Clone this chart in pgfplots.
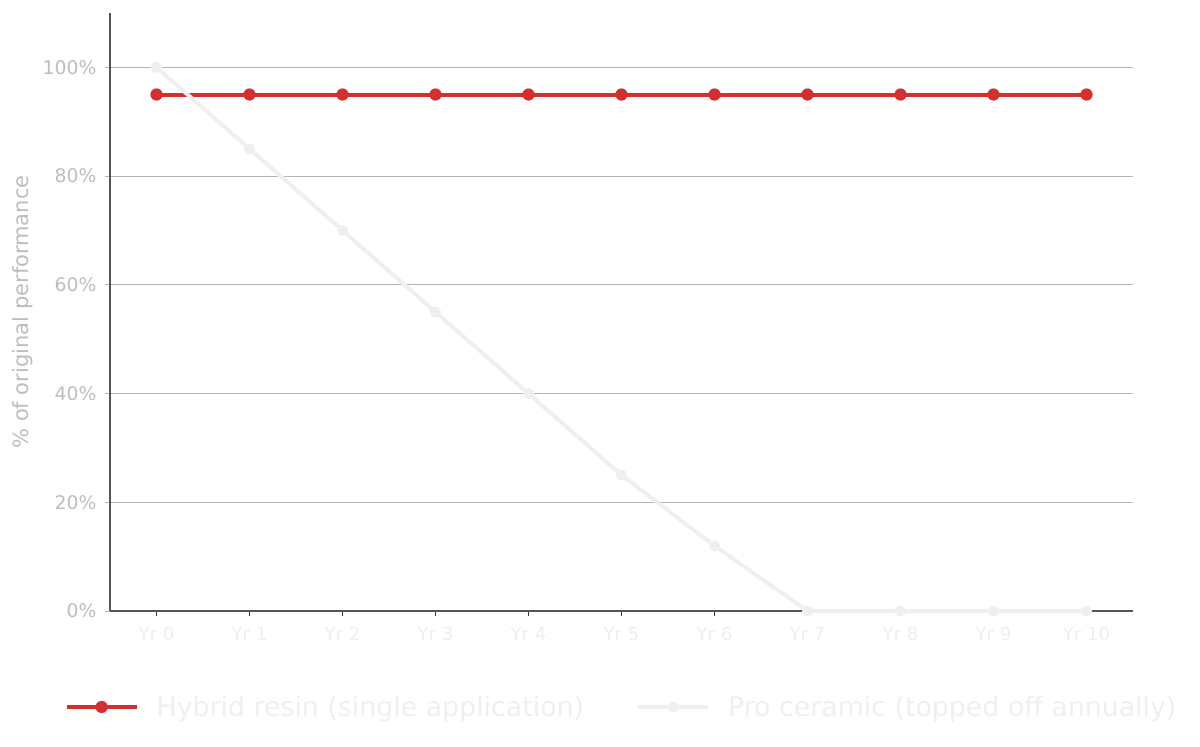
\documentclass[border=0pt]{standalone}
\usepackage{fontspec}
\setmainfont{DejaVu Sans}
\usepackage{pgfplots}
\pgfplotsset{compat=1.18}
\definecolor{hred}{HTML}{D32F2F}
\definecolor{pgray}{HTML}{EFEFEF}
\definecolor{gridgray}{HTML}{B4B4B4}
\definecolor{ylab}{HTML}{BDBDBD}
\definecolor{xlab}{HTML}{EEEEEE}
\definecolor{legtext}{HTML}{EFEFEF}
\definecolor{spine}{HTML}{555555}
\begin{document}
\begin{tikzpicture}
\begin{axis}[name=ax, at={(0,0)}, anchor=south west,
  scale only axis, width=1023pt, height=598pt,
  xmin=-0.5, xmax=10.5, ymin=0, ymax=110,
  axis x line*=bottom, axis y line*=left,
  x axis line style={-, draw=spine, line width=1.2pt},
  y axis line style={-, draw=spine, line width=1.2pt},
  xtick={0,1,2,3,4,5,6,7,8,9,10},
  xticklabels={Yr 0,Yr 1,Yr 2,Yr 3,Yr 4,Yr 5,Yr 6,Yr 7,Yr 8,Yr 9,Yr 10},
  ytick={0,20,40,60,80,100},
  yticklabels={0\%,20\%,40\%,60\%,80\%,100\%},
  ymajorgrids, major grid style={draw=gridgray, line width=1pt},
  tick align=outside, major tick length=5pt,
  x tick style={draw=black!80, line width=1pt},
  y tick style={draw=gridgray, line width=1pt},
  xticklabel style={font=\fontsize{18}{20}\selectfont, text=xlab, yshift=-8pt},
  yticklabel style={font=\fontsize{18.8}{21}\selectfont, text=ylab, xshift=-5pt},
  ylabel={\% of original performance},
  ylabel style={at={(axis description cs:-0.085,0.5)}, anchor=center, font=\fontsize{21}{24}\selectfont, text=ylab},
  legend style={at={(axis description cs:0.5,-0.1605)}, anchor=center, legend columns=2, draw=none, fill=none,
    font=\fontsize{26.8}{30}\selectfont, text=legtext,
    /tikz/every odd column/.append style={column sep=16pt},
    /tikz/every even column/.append style={column sep=50pt}},
  legend image code/.code={\draw[mark repeat=2, mark phase=2, #1] plot coordinates {(0pt,0pt) (35pt,0pt) (70pt,0pt)};},
  clip=false,
]
\addplot[hred, line width=4pt, mark=*, mark size=6pt, mark options={solid, line width=0.1pt, fill=hred, draw=hred}]
  coordinates {(0,95) (1,95) (2,95) (3,95) (4,95) (5,95) (6,95) (7,95) (8,95) (9,95) (10,95)};
\addlegendentry{Hybrid resin (single application)}
\addplot[pgray, line width=4pt, mark=*, mark size=5.5pt, mark options={solid, line width=0.1pt, fill=pgray, draw=pgray}]
  coordinates {(0,100) (1,85) (2,70) (3,55) (4,40) (5,25) (6,12) (7,0) (8,0) (9,0) (10,0)};
\addlegendentry{Pro ceramic (topped off annually)}
\end{axis}
\path[use as bounding box] ([xshift=-110pt,yshift=-135pt]ax.south west) rectangle ([xshift=67pt,yshift=13pt]ax.north east);
\end{tikzpicture}
\end{document}
